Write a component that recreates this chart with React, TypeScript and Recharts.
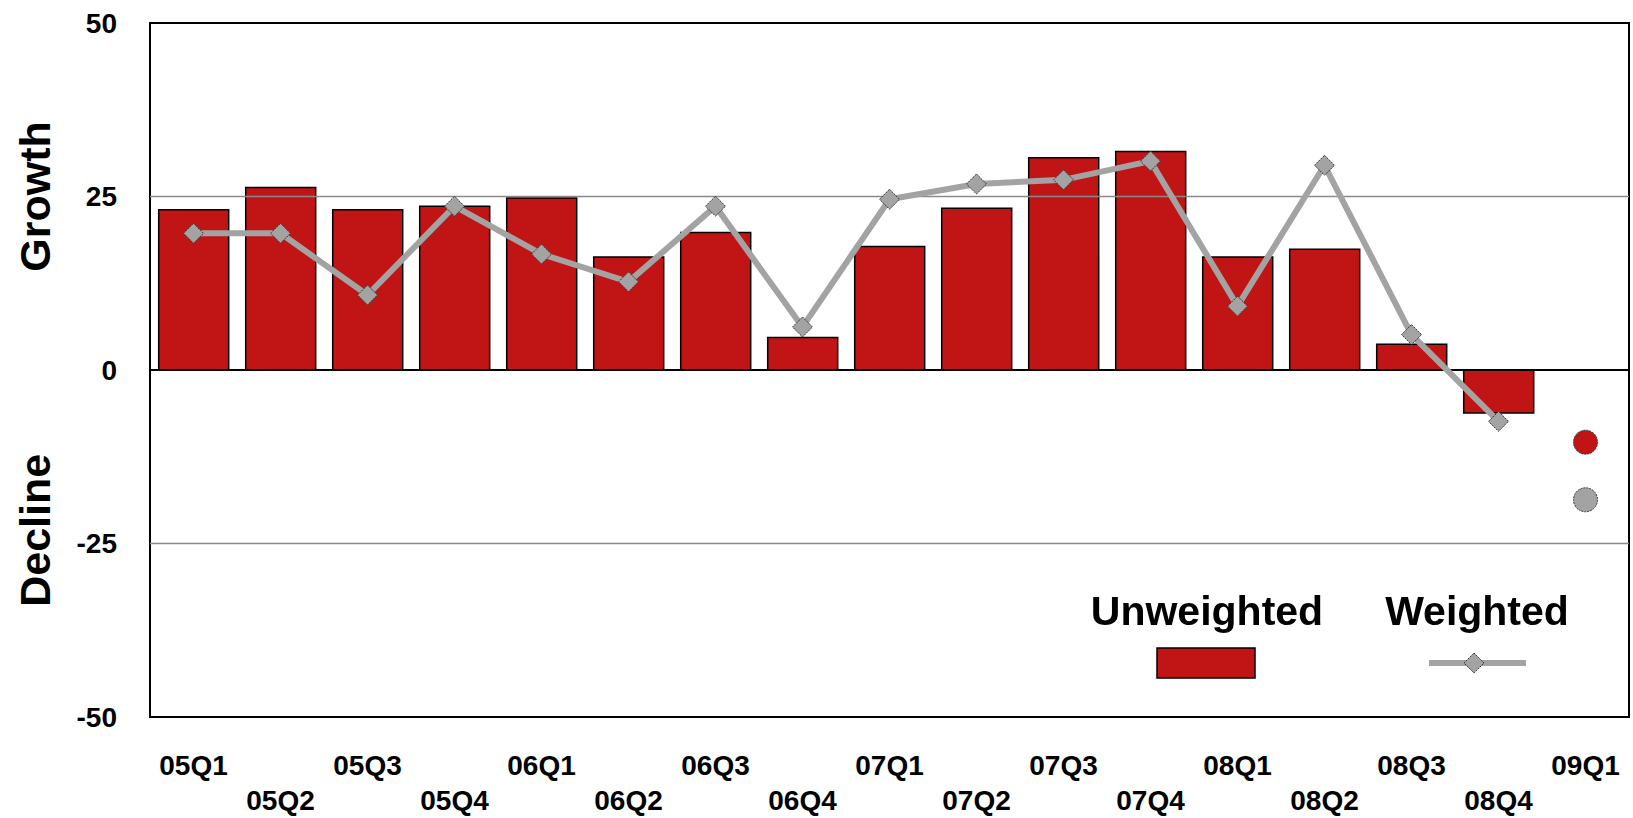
import React from 'react';
import {
  ComposedChart,
  Bar,
  Line,
  XAxis,
  YAxis,
  ReferenceLine,
  ReferenceArea,
  Legend,
} from 'recharts';

// Quarterly growth, 2005 Q1 – 2009 Q1
const quarters = [
  '05Q1', '05Q2', '05Q3', '05Q4',
  '06Q1', '06Q2', '06Q3', '06Q4',
  '07Q1', '07Q2', '07Q3', '07Q4',
  '08Q1', '08Q2', '08Q3', '08Q4',
  '09Q1',
];

const unweighted: (number | null)[] = [
  23.1, 26.3, 23.1, 23.6,
  24.8, 16.3, 19.8, 4.7,
  17.8, 23.3, 30.6, 31.5,
  16.3, 17.4, 3.7, -6.2,
  null,
];

const weighted: (number | null)[] = [
  19.7, 19.7, 10.8, 23.6,
  16.7, 12.7, 23.6, 6.2,
  24.6, 26.8, 27.4, 30.1,
  9.2, 29.5, 5.1, -7.4,
  null,
];

// Latest quarter shown as single points
const unweightedLatest: (number | null)[] = [
  null, null, null, null, null, null, null, null,
  null, null, null, null, null, null, null, null,
  -10.4,
];
const weightedLatest: (number | null)[] = [
  null, null, null, null, null, null, null, null,
  null, null, null, null, null, null, null, null,
  -18.7,
];

const yTicks = [-50, -25, 0, 25, 50];

const RED = '#C11414';
const GREY = '#A3A3A3';
const FONT = '"Liberation Sans", Arial, Helvetica, sans-serif';

const data = quarters.map((quarter, i) => ({
  quarter,
  unweighted: unweighted[i],
  weighted: weighted[i],
  unweightedLatest: unweightedLatest[i],
  weightedLatest: weightedLatest[i],
}));

const diamondPath = (cx: number, cy: number, r: number) =>
  `M${cx},${cy - r} L${cx + r},${cy} L${cx},${cy + r} L${cx - r},${cy} Z`;

const DiamondDot = (props: any) => {
  const { cx, cy, index, value } = props;
  if (value == null || cx == null || cy == null) return <g key={`dd-${index}`} />;
  return (
    <path
      key={`dd-${index}`}
      d={diamondPath(cx, cy, 10)}
      fill={GREY}
      stroke="#333"
      strokeWidth={1}
      strokeDasharray="2 1"
    />
  );
};

const makeCircleDot = (fill: string) => (props: any) => {
  const { cx, cy, index, value } = props;
  if (value == null || cx == null || cy == null) return <g key={`cd-${index}`} />;
  return (
    <circle
      key={`cd-${index}`}
      cx={cx}
      cy={cy}
      r={12}
      fill={fill}
      stroke="#333"
      strokeWidth={1}
      strokeDasharray="2 1"
    />
  );
};

const StaggeredTick = (props: any) => {
  const { x, y, payload } = props;
  const i = quarters.indexOf(payload.value);
  return (
    <text
      x={x}
      y={y + (i % 2 === 0 ? 58 : 93)}
      textAnchor="middle"
      fontFamily={FONT}
      fontWeight="bold"
      fontSize={28}
      fill="#000"
    >
      {payload.value}
    </text>
  );
};

const AxisTitles = (props: any) => {
  const vb = props.viewBox || { x: 0, y: 23, width: 150, height: 694 };
  const bx = vb.x + 50;
  const gy = vb.y + vb.height * 0.25;
  const dy = vb.y + vb.height * 0.731;
  const style = { fontFamily: FONT, fontWeight: 'bold' as const, fontSize: 43, fill: '#000' };
  return (
    <g>
      <text x={bx} y={gy} textAnchor="middle" transform={`rotate(-90, ${bx}, ${gy})`} {...style}>
        Growth
      </text>
      <text x={bx} y={dy} textAnchor="middle" transform={`rotate(-90, ${bx}, ${dy})`} {...style}>
        Decline
      </text>
    </g>
  );
};

const LegendContent = () => (
  <svg width={560} height={130} style={{ overflow: 'visible' }}>
    <text x={127} y={45} textAnchor="middle" fontFamily={FONT} fontWeight="bold" fontSize={41} fill="#000">
      Unweighted
    </text>
    <rect x={77} y={68} width={98} height={30} fill={RED} stroke="#000" strokeWidth={1.5} />
    <text x={397} y={45} textAnchor="middle" fontFamily={FONT} fontWeight="bold" fontSize={41} fill="#000">
      Weighted
    </text>
    <line x1={349} y1={83} x2={446} y2={83} stroke={GREY} strokeWidth={6} />
    <path d={diamondPath(394, 83, 10)} fill={GREY} stroke="#333" strokeWidth={1} strokeDasharray="2 1" />
  </svg>
);

export default function App() {
  return (
    <div style={{ position: 'fixed', left: 0, top: 0, width: 1633, height: 818, background: '#fff' }}>
      <ComposedChart
        width={1633}
        height={818}
        data={data}
        margin={{ top: 23, right: 4, bottom: 41, left: 0 }}
        barCategoryGap="10%"
      >
        <XAxis
          dataKey="quarter"
          height={60}
          interval={0}
          tickLine={false}
          axisLine={false}
          tickSize={0}
          tickMargin={0}
          tick={<StaggeredTick />}
        />
        <YAxis
          domain={[-50, 50]}
          ticks={yTicks}
          interval={0}
          allowDataOverflow
          width={150}
          tickLine={false}
          axisLine={false}
          tickSize={0}
          tickMargin={33}
          tick={{ fontFamily: FONT, fontWeight: 'bold', fontSize: 28, fill: '#000' }}
          label={AxisTitles}
        />
        <ReferenceLine y={25} stroke="#8a8a8a" strokeWidth={1.5} />
        <ReferenceLine y={-25} stroke="#8a8a8a" strokeWidth={1.5} />
        <Bar
          dataKey="unweighted"
          name="Unweighted"
          fill={RED}
          stroke="#000"
          strokeWidth={1.5}
          isAnimationActive={false}
        />
        <ReferenceLine y={0} stroke="#000" strokeWidth={2} />
        <Line
          dataKey="weighted"
          name="Weighted"
          stroke={GREY}
          strokeWidth={6}
          dot={DiamondDot}
          activeDot={false}
          isAnimationActive={false}
        />
        <Line
          dataKey="unweightedLatest"
          stroke="none"
          dot={makeCircleDot(RED)}
          activeDot={false}
          legendType="none"
          isAnimationActive={false}
        />
        <Line
          dataKey="weightedLatest"
          stroke="none"
          dot={makeCircleDot(GREY)}
          activeDot={false}
          legendType="none"
          isAnimationActive={false}
        />
        <ReferenceArea y1={-50} y2={50} fill="none" stroke="#000" strokeWidth={2} />
        <Legend
          layout="vertical"
          align="center"
          verticalAlign="middle"
          width={560}
          height={130}
          wrapperStyle={{ left: 1080, top: 580 }}
          content={LegendContent}
        />
      </ComposedChart>
    </div>
  );
}
